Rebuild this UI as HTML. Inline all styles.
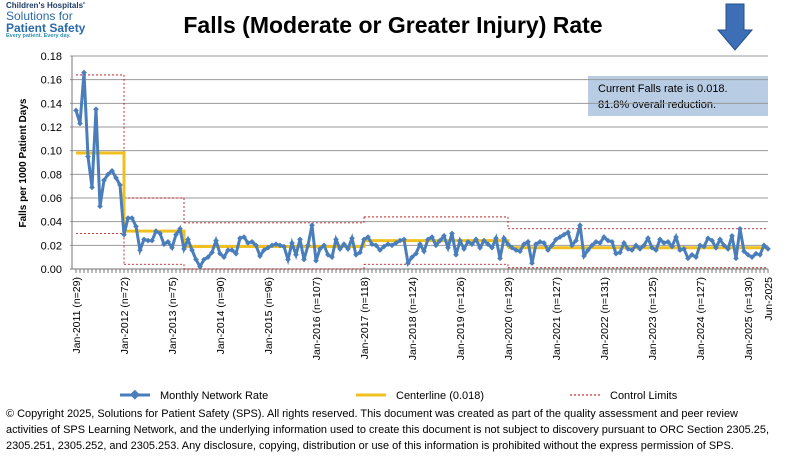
<!DOCTYPE html>
<html><head><meta charset="utf-8"><style>
body{margin:0;width:787px;height:469px;background:#fff;font-family:"Liberation Sans",sans-serif;overflow:hidden;position:relative}
.foot{position:absolute;left:6px;top:406px;width:785px;font-size:10.95px;line-height:16px;color:#000;white-space:nowrap}
</style></head><body>
<div style="position:absolute;left:6px;top:2px;width:90px;line-height:1">
<div style="font-size:8px;font-weight:bold;color:#1f3d6b">Children's Hospitals'</div>
<div style="font-size:12px;color:#2b6aa8">Solutions for</div>
<div style="font-size:12px;font-weight:bold;color:#2b6aa8">Patient Safety</div>
<div style="font-size:5.5px;font-weight:bold;color:#2b8fb0">Every patient. Every day.</div></div>
<svg width="787" height="469" style="position:absolute;left:0;top:0" id="chart">
<text x="393" y="33" text-anchor="middle" font-size="23" font-weight="bold">Falls (Moderate or Greater Injury) Rate</text>
<path d="M726 4 H744 V30 H752 L735 50 L718 30 H726 Z" fill="#3d6fb6" stroke="#254f8a"/>
<rect x="588" y="76" width="180" height="40" fill="#b8cce4"/>
<text x="598" y="92" font-size="11">Current Falls rate is 0.018.</text>
<text x="598" y="108" font-size="11">81.8% overall reduction.</text>
<text transform="translate(26,163) rotate(-90)" text-anchor="middle" font-size="10" font-weight="bold">Falls per 1000 Patient Days</text>
<g id="g"></g>
<g>
<line x1="120" y1="395" x2="150" y2="395" stroke="#4a7ebb" stroke-width="3"/><rect x="131" y="391" width="7" height="7" fill="#4a7ebb" transform="rotate(45 134.5 395)"/>
<text x="160" y="399" font-size="11">Monthly Network Rate</text>
<line x1="356" y1="395" x2="386" y2="395" stroke="#f0c020" stroke-width="3"/>
<text x="396" y="399" font-size="11">Centerline (0.018)</text>
<line x1="570" y1="395" x2="600" y2="395" stroke="#c00000" stroke-dasharray="2,2"/>
<text x="610" y="399" font-size="11">Control Limits</text></g>
</svg>
<div class="foot">© Copyright 2025, Solutions for Patient Safety (SPS).  All rights reserved.  This document was created as part of the quality assessment and peer review<br>activities of SPS Learning Network, and the underlying information used to create this document is not subject to discovery pursuant to ORC Section 2305.25,<br>2305.251, 2305.252, and 2305.253. Any disclosure, copying, distribution or use of this information is prohibited without the express permission of SPS.</div>
<script>
const rates=[.134,.123,.166,.095,.069,.135,.053,.075,.080,.083,.077,.071,
.029,.043,.043,.036,.016,.025,.024,.024,.032,.030,.021,.023,
.018,.029,.034,.017,.025,.016,.008,.002,.008,.010,.014,.024,
.013,.010,.016,.016,.013,.026,.027,.022,.023,.020,.011,.016,
.018,.020,.021,.020,.019,.008,.022,.012,.025,.008,.020,.037,
.007,.017,.020,.012,.010,.025,.017,.021,.017,.026,.012,.014,
.025,.027,.021,.020,.016,.019,.021,.020,.022,.024,.025,.005,
.010,.013,.021,.015,.025,.027,.020,.024,.028,.018,.030,.012,
.024,.017,.023,.021,.025,.018,.024,.021,.018,.026,.009,.026,
.021,.018,.016,.015,.021,.023,.005,.021,.023,.022,.016,.020,
.025,.027,.029,.031,.020,.024,.037,.011,.016,.020,.023,.022,
.027,.024,.023,.013,.014,.022,.017,.016,.020,.017,.020,.026,
.018,.016,.025,.022,.023,.019,.027,.016,.017,.009,.012,.010,
.020,.019,.026,.024,.018,.025,.020,.017,.028,.009,.034,.015,
.012,.010,.013,.012,.020,.017];
const segStart=[0,12,27,72,108];
const segEnd=[12,27,72,108,173];
const center=[.098,.032,.019,.024,.018];
const ucl=[.164,.060,.039,.044,.034];
const lcl=[.030,.004,.000,.004,.001];
const yTicks=[0,.02,.04,.06,.08,.10,.12,.14,.16,.18];
const xLabels=["Jan-2011 (n=29)","Jan-2012 (n=72)","Jan-2013 (n=75)","Jan-2014 (n=90)","Jan-2015 (n=96)","Jan-2016 (n=107)","Jan-2017 (n=118)","Jan-2018 (n=124)","Jan-2019 (n=126)","Jan-2020 (n=129)","Jan-2021 (n=127)","Jan-2022 (n=131)","Jan-2023 (n=125)","Jan-2024 (n=127)","Jan-2025 (n=130)","Jun-2025"];
const xLabelIdx=[0,12,24,36,48,60,72,84,96,108,120,132,144,156,168,173];
const NS="http://www.w3.org/2000/svg",g=document.getElementById('g');
const X=i=>76+i*4, Y=v=>269-v/0.18*213;
function el(t,a){const e=document.createElementNS(NS,t);for(const k in a)e.setAttribute(k,a[k]);g.appendChild(e);return e;}
yTicks.forEach(v=>{const l=el('line',{x1:70,x2:768,y1:Y(v),y2:Y(v),stroke:v?'#999':'#777'});


const t=el('text',{x:62,y:Y(v)+4,'text-anchor':'end','font-size':11});t.textContent=v.toFixed(2);

});
el('line',{x1:72,x2:72,y1:Y(.18),y2:269,stroke:'#777'});
for(let i=0;i<rates.length;i++)el('line',{x1:X(i),x2:X(i),y1:269,y2:273,stroke:'#777'});
xLabels.forEach((s,k)=>{const t=el('text',{transform:`translate(${X(xLabelIdx[k])+4},277) rotate(-90)`,'text-anchor':'end','font-size':10.5});t.textContent=s;

});
function seg(arr,style,name){arr.forEach((v,k)=>{let d=`M${X(segStart[k])} ${Y(v)} H${X(segEnd[k])}`;if(k<arr.length-1)d+=` V${Y(arr[k+1])}`;const p=el('path',Object.assign({d,fill:'none'},style));

});}
seg(ucl,{stroke:'#c00000','stroke-width':0.8,'stroke-dasharray':'2,2'},'upper-control-limit');
seg(lcl,{stroke:'#c00000','stroke-width':0.8,'stroke-dasharray':'2,2'},'lower-control-limit');
seg(center,{stroke:'#f0c020','stroke-width':3},'centerline');
const ln=el('polyline',{points:rates.map((v,i)=>X(i)+','+Y(v)).join(' '),fill:'none',stroke:'#4a7ebb','stroke-width':3});


rates.forEach((v,i)=>{const m=el('rect',{x:X(i)-2,y:Y(v)-2,width:4,height:4,fill:'#4a7ebb',transform:`rotate(45 ${X(i)} ${Y(v)})`});

});
</script></body></html>
